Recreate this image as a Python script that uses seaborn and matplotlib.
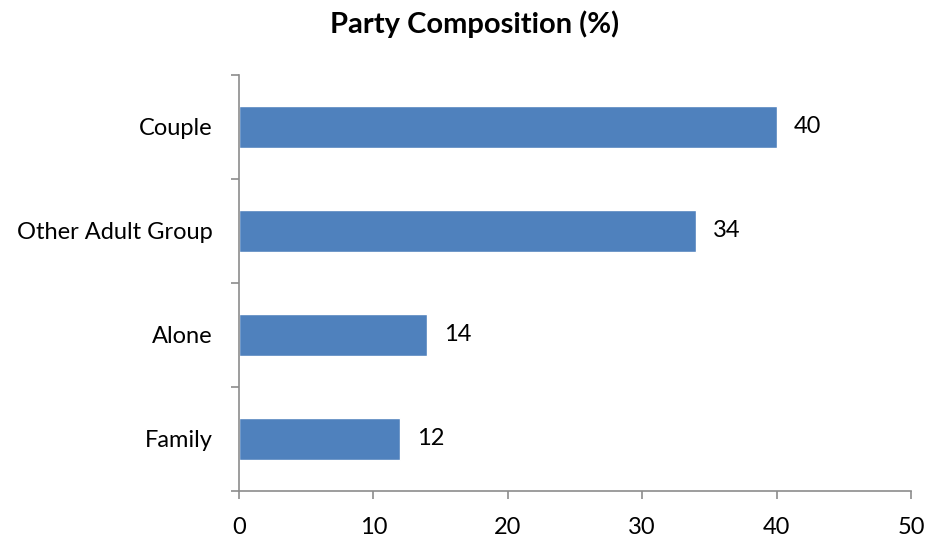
import matplotlib
matplotlib.use("Agg")
import matplotlib.pyplot as plt
from matplotlib.ticker import FixedLocator
import seaborn as sns
import pandas as pd

categories = ["Couple", "Other Adult Group", "Alone", "Family"]
values = [40, 34, 14, 12]
x_ticks = [0, 10, 20, 30, 40, 50]

sns.set_theme(style="white")
plt.rcParams["font.family"] = ["Lato", "DejaVu Sans"]
plt.rcParams["text.color"] = "black"

df = pd.DataFrame({"group": categories, "pct": values})

fig = plt.figure(figsize=(9.28, 5.39), dpi=100)
ax = fig.add_axes([0.2575, 0.0891, 0.7242, 0.7718])

sns.barplot(data=df, x="pct", y="group", orient="h", color="#4F81BD",
            width=0.4, saturation=1, ax=ax)

for c in ax.containers:
    ax.bar_label(c, labels=[f"{v:g}" for v in values], padding=12,
                 fontsize=17, color="black")

ax.set_xlim(0, 50)
ax.set_ylim(3.5, -0.5)
ax.set_xticks(x_ticks)
ax.set_xticklabels([str(t) for t in x_ticks], fontsize=17)
ax.set_yticks(range(len(categories)))
ax.set_yticklabels(categories, fontsize=17)
ax.yaxis.set_minor_locator(FixedLocator([-0.5, 0.5, 1.5, 2.5, 3.5]))
ax.tick_params(axis="y", which="major", length=0, pad=19, labelcolor="black")
ax.tick_params(axis="y", which="minor", length=6, width=1.2, color="#8c8c8c",
               direction="out", left=True)
ax.tick_params(axis="x", which="major", length=6, width=1.2, color="#8c8c8c",
               direction="out", bottom=True, pad=13, labelcolor="black")
ax.set_xlabel("")
ax.set_ylabel("")

for side in ["top", "right"]:
    ax.spines[side].set_visible(False)
for side in ["left", "bottom"]:
    ax.spines[side].set_color("#8c8c8c")
    ax.spines[side].set_linewidth(1.2)

fig.text(0.511, 0.955, "Party Composition (%)", ha="center", va="center",
         fontsize=21, fontweight="bold", color="black")

fig.savefig("out.png", dpi=100, facecolor="white")
